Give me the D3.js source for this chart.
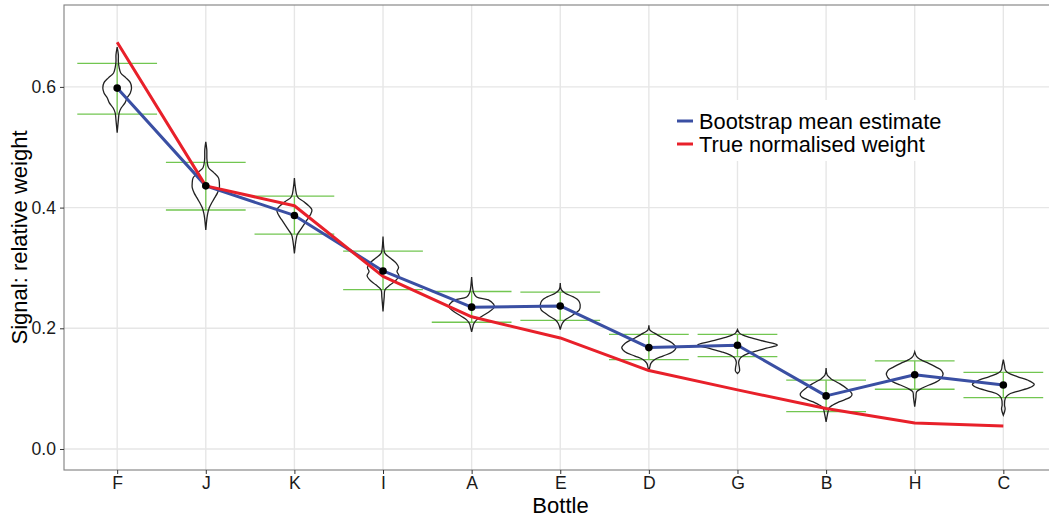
<!DOCTYPE html>
<html>
<head>
<meta charset="utf-8">
<script src="https://cdn.jsdelivr.net/npm/d3@7/dist/d3.min.js"></script>
<style>
  html, body { margin: 0; padding: 0; background: #fff; }
  svg { display: block; font-family: "Liberation Sans", Arial, Helvetica, sans-serif; }
</style>
</head>
<body>
<svg id="chart" width="1049" height="518"></svg>
<script>
// Bottles, ordered by true weight
const bottles = ["F", "J", "K", "I", "A", "E", "D", "G", "B", "H", "C"];

// Bootstrap mean estimate of each bottle's signal
const bootstrapMean = [0.598, 0.436, 0.387, 0.295, 0.235, 0.237, 0.168, 0.172, 0.088, 0.123, 0.106];

// True normalised weight
const trueWeight = [0.674, 0.436, 0.403, 0.286, 0.219, 0.184, 0.130, 0.098, 0.067, 0.043, 0.038];

// Bootstrap interval bounds
const intervalLow  = [0.555, 0.396, 0.356, 0.264, 0.210, 0.213, 0.148, 0.153, 0.062, 0.099, 0.085];
const intervalHigh = [0.639, 0.475, 0.419, 0.328, 0.261, 0.260, 0.190, 0.190, 0.114, 0.146, 0.127];

// Bootstrap distributions: [signal, relative density]
const violinF = [[0.666,0],[0.653,0.03],[0.642,0.03],[0.632,0.05],[0.623,0.09],[0.615,0.22],[0.607,0.33],[0.598,0.36],[0.590,0.33],[0.582,0.25],[0.574,0.2],[0.565,0.1],[0.557,0.05],[0.545,0.03],[0.524,0]];
const violinJ = [[0.509,0],[0.496,0.025],[0.479,0.03],[0.466,0.07],[0.458,0.2],[0.449,0.32],[0.441,0.34],[0.433,0.34],[0.424,0.29],[0.416,0.22],[0.408,0.15],[0.400,0.09],[0.391,0.05],[0.383,0.03],[0.363,0]];
const violinK = [[0.449,0],[0.433,0.025],[0.418,0.075],[0.410,0.23],[0.402,0.375],[0.396,0.44],[0.388,0.4],[0.380,0.32],[0.371,0.23],[0.363,0.15],[0.355,0.07],[0.346,0.04],[0.324,0]];
const violinI = [[0.352,0],[0.330,0.025],[0.324,0.05],[0.316,0.19],[0.308,0.33],[0.301,0.39],[0.294,0.35],[0.287,0.4],[0.280,0.33],[0.272,0.18],[0.264,0.05],[0.252,0.03],[0.228,0]];
const violinA = [[0.285,0],[0.267,0.025],[0.259,0.05],[0.252,0.125],[0.247,0.42],[0.240,0.55],[0.235,0.57],[0.228,0.45],[0.220,0.26],[0.214,0.125],[0.207,0.05],[0.201,0.025],[0.194,0]];
const violinE = [[0.275,0],[0.264,0.025],[0.258,0.125],[0.252,0.33],[0.246,0.46],[0.239,0.5],[0.230,0.475],[0.225,0.375],[0.219,0.25],[0.214,0.125],[0.208,0.05],[0.198,0]];
const violinD = [[0.205,0],[0.197,0.025],[0.192,0.14],[0.184,0.35],[0.175,0.6],[0.168,0.68],[0.161,0.6],[0.154,0.35],[0.148,0.14],[0.142,0.05],[0.136,0.025],[0.129,0]];
const violinG = [[0.198,0],[0.192,0.05],[0.189,0.125],[0.185,0.3],[0.180,0.575],[0.174,0.95],[0.172,1],[0.167,0.725],[0.161,0.4],[0.156,0.19],[0.151,0.075],[0.144,0.03],[0.134,0.05],[0.129,0.05],[0.125,0]];
const violinB = [[0.134,0],[0.123,0.025],[0.117,0.11],[0.109,0.32],[0.101,0.5],[0.091,0.65],[0.086,0.61],[0.078,0.32],[0.073,0.17],[0.068,0.075],[0.059,0.04],[0.045,0]];
const violinH = [[0.161,0],[0.153,0.05],[0.148,0.15],[0.142,0.35],[0.136,0.525],[0.130,0.675],[0.123,0.71],[0.114,0.61],[0.106,0.36],[0.101,0.19],[0.095,0.05],[0.085,0.03],[0.070,0]];
const violinC = [[0.148,0],[0.138,0.03],[0.131,0.05],[0.126,0.125],[0.120,0.35],[0.113,0.65],[0.107,0.775],[0.102,0.675],[0.095,0.33],[0.090,0.125],[0.084,0.05],[0.073,0.03],[0.066,0.045],[0.056,0]];
const violins = [violinF, violinJ, violinK, violinI, violinA, violinE, violinD, violinG, violinB, violinH, violinC];

// Axis ticks
const yTicks = [0.0, 0.2, 0.4, 0.6];
const yTickLabels = ["0.0", "0.2", "0.4", "0.6"];

// Legend entries
const legendLabels = ["Bootstrap mean estimate", "True normalised weight"];
const legendColors = ["#3a4fa3", "#e8202a"];

const svg = d3.select("#chart");

const panel = { left: 64, top: 5, right: 1056.5, bottom: 470 };

const x = d3.scalePoint()
  .domain(bottles)
  .range([panel.left, panel.right])
  .padding(0.6);

const y = d3.scaleLinear()
  .domain([-0.0348, 0.7357])
  .range([panel.bottom, panel.top]);

const step = x.step();
const halfWidth = d3.scaleLinear().domain([0, 1]).range([0, 0.45 * step]);

// Panel clip
svg.append("defs").append("clipPath").attr("id", "panel-clip")
  .append("rect")
  .attr("x", panel.left).attr("y", panel.top)
  .attr("width", panel.right - panel.left).attr("height", panel.bottom - panel.top);

const plot = svg.append("g").attr("clip-path", "url(#panel-clip)");

// Grid
plot.append("g").selectAll("line.gy").data(yTicks).join("line")
  .attr("x1", panel.left).attr("x2", panel.right)
  .attr("y1", d => y(d)).attr("y2", d => y(d))
  .attr("stroke", "#e6e6e6").attr("stroke-width", 1.4);
plot.append("g").selectAll("line.gx").data(bottles).join("line")
  .attr("x1", d => x(d)).attr("x2", d => x(d))
  .attr("y1", panel.top).attr("y2", panel.bottom)
  .attr("stroke", "#e6e6e6").attr("stroke-width", 1.4);

// Interval bars
const bars = plot.append("g").attr("stroke", "#72c650").attr("stroke-width", 1.3).attr("fill", "none");
bottles.forEach((b, i) => {
  const cx = x(b), w = 0.45 * step;
  bars.append("line").attr("x1", cx - w).attr("x2", cx + w)
    .attr("y1", y(intervalHigh[i])).attr("y2", y(intervalHigh[i]));
  bars.append("line").attr("x1", cx - w).attr("x2", cx + w)
    .attr("y1", y(intervalLow[i])).attr("y2", y(intervalLow[i]));
  bars.append("line").attr("x1", cx).attr("x2", cx)
    .attr("y1", y(intervalHigh[i])).attr("y2", y(intervalLow[i]));
});

// Violins
const violinLayer = plot.append("g");
bottles.forEach((b, i) => {
  const cx = x(b);
  const area = d3.area()
    .curve(d3.curveCatmullRom)
    .y(d => y(d[0]))
    .x0(d => cx - halfWidth(d[1]))
    .x1(d => cx + halfWidth(d[1]));
  violinLayer.append("path")
    .attr("d", area(violins[i]))
    .attr("fill", "none")
    .attr("stroke", "#222")
    .attr("stroke-width", 1.3);
});

// Lines
const line = d3.line().x((d, i) => x(bottles[i])).y(d => y(d));
plot.append("path").attr("d", line(bootstrapMean))
  .attr("fill", "none").attr("stroke", legendColors[0]).attr("stroke-width", 3)
  .attr("stroke-linejoin", "round");
plot.append("path").attr("d", line(trueWeight))
  .attr("fill", "none").attr("stroke", legendColors[1]).attr("stroke-width", 3)
  .attr("stroke-linejoin", "round");

// Mean points
plot.append("g").selectAll("circle").data(bootstrapMean).join("circle")
  .attr("cx", (d, i) => x(bottles[i])).attr("cy", d => y(d))
  .attr("r", 3.8).attr("fill", "#000");

// Legend
const legend = svg.append("g");
legend.append("rect").attr("x", 668).attr("y", 100).attr("width", 290).attr("height", 61).attr("fill", "#fff");
legendLabels.forEach((label, i) => {
  const ly = 121 + i * 23;
  legend.append("line").attr("x1", 677).attr("x2", 693).attr("y1", ly).attr("y2", ly)
    .attr("stroke", legendColors[i]).attr("stroke-width", 3);
  legend.append("text").attr("x", 699).attr("y", ly + 7.8)
    .attr("font-size", 21.8).attr("fill", "#000").text(label);
});

// Panel border
svg.append("rect")
  .attr("x", panel.left).attr("y", panel.top)
  .attr("width", panel.right - panel.left).attr("height", panel.bottom - panel.top)
  .attr("fill", "none").attr("stroke", "#7f7f7f").attr("stroke-width", 1.1);

// Axes
const yAxis = d3.axisLeft(y).tickValues(yTicks).tickFormat((d, i) => yTickLabels[i]).tickSizeOuter(0).tickSizeInner(4).tickPadding(4);
const gy = svg.append("g").attr("transform", `translate(${panel.left},0)`).call(yAxis);
gy.select(".domain").remove();
gy.selectAll(".tick line").attr("stroke", "#333");
gy.selectAll(".tick text").attr("font-size", 17.6).attr("fill", "#1a1a1a").attr("font-family", "Liberation Sans, Arial, sans-serif");

const xAxis = d3.axisBottom(x).tickSizeOuter(0).tickSizeInner(4).tickPadding(3);
const gx = svg.append("g").attr("transform", `translate(0,${panel.bottom})`).call(xAxis);
gx.select(".domain").remove();
gx.selectAll(".tick line").attr("stroke", "#333");
gx.selectAll(".tick text").attr("font-size", 17.6).attr("fill", "#1a1a1a").attr("font-family", "Liberation Sans, Arial, sans-serif");

// Axis titles
svg.append("text")
  .attr("x", (panel.left + 1049) / 2 + 4).attr("y", 513)
  .attr("text-anchor", "middle").attr("font-size", 22).attr("fill", "#000")
  .text("Bottle");
svg.append("text")
  .attr("transform", `translate(27,${(panel.top + panel.bottom) / 2}) rotate(-90)`)
  .attr("text-anchor", "middle").attr("font-size", 22).attr("fill", "#000")
  .text("Signal: relative weight");
</script>
</body>
</html>
